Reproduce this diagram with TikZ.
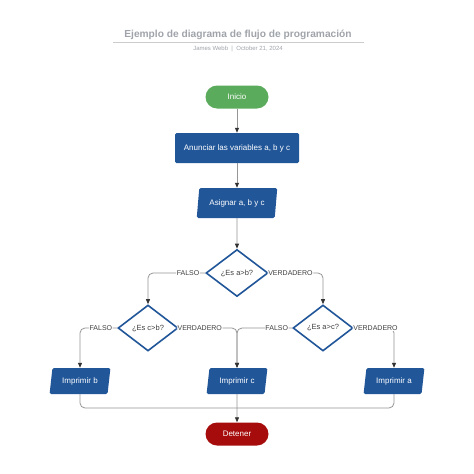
\documentclass[tikz,border=0pt]{standalone}
\usepackage{fontspec}
\setmainfont{Liberation Sans}
\usetikzlibrary{shapes.geometric,arrows.meta}
\definecolor{flowblue}{RGB}{33,86,153}
\definecolor{flowgreen}{RGB}{91,171,92}
\definecolor{flowred}{RGB}{166,12,12}
\definecolor{linegray}{RGB}{150,150,150}
\definecolor{titlegray}{RGB}{160,164,170}
\tikzset{
    base/.style={text=white,font=\fontsize{8}{9}\selectfont,inner sep=0pt},
    terminal/.style={base,rounded corners=11.5pt,minimum width=63pt,minimum height=23pt},
    process/.style={base,fill=flowblue,rounded corners=1.5pt,minimum width=124pt,minimum height=30pt},
    io/.style={base,fill=flowblue,trapezium,trapezium left angle=76,trapezium right angle=104,
        trapezium stretches=true,rounded corners=1.5pt},
    decision/.style={diamond,draw=flowblue,line width=1.6pt,fill=white,text=black!75,
        font=\fontsize{7.5}{9}\selectfont,minimum width=62pt,minimum height=47pt,inner sep=0pt},
    conn/.style={draw=linegray,line width=0.8pt,rounded corners=5pt},
    arr/.style={conn,-{Triangle[length=5pt,width=4pt,color=black!80]}},
    lbl/.style={fill=white,text=black!75,font=\fontsize{7}{8}\selectfont,inner sep=0.6pt}
}
\begin{document}
\begin{tikzpicture}[x=1pt,y=-1pt]
    \useasboundingbox[fill=white] (0,0) rectangle (474,474);
    \node[text=titlegray,font=\fontsize{10.2}{12}\bfseries] (title) at (238,35)
        {Ejemplo de diagrama de flujo de programación};
    \draw[draw=black!20,line width=1.3pt] (113,42.5)--(364,42.5);
    \node[text=titlegray,font=\fontsize{6}{7}\selectfont] (sub) at (238,49)
        {James Webb \ | \ October 21, 2024};

    \node[terminal,fill=flowgreen] (inicio) at (237,97) {Inicio};
    \node[process] (anunciar) at (237,148) {Anunciar las variables a, b y c};
    \node[io,minimum width=81pt,minimum height=30pt] (asignar) at (237,203) {Asignar a, b y c};
    \node[decision] (ab) at (237,273) {¿Es a>b?};
    \node[decision,minimum width=60pt,minimum height=46pt] (cb) at (148,328) {¿Es c>b?};
    \node[decision,minimum width=60pt,minimum height=46pt] (ac) at (323,328) {¿Es a>c?};
    \foreach \n/\x/\t in {imprb/80/b,imprc/237/c,impra/394/a}
    \node[io,minimum width=61pt,minimum height=26pt] (\n) at (\x,381) {Imprimir \t};
    \node[terminal,fill=flowred] (detener) at (237,434) {Detener};
    \coordinate (merge) at (237,408);

    \draw[arr] (inicio) -- (anunciar);
    \draw[arr] (anunciar) -- (asignar);
    \draw[arr] (asignar) -- (ab);
    \draw[arr] (ab.west) -| node[lbl,pos=0.15] {FALSO} (cb.north);
    \draw[arr] (ab.east) -| node[lbl,pos=0.2] {VERDADERO} (ac.north);
    \draw[arr] (cb.west) -| node[lbl,pos=0.22] {FALSO} (imprb.north);
    \draw[arr] (cb.east) -| node[lbl,pos=0.18] {VERDADERO} (imprc.north);
    \draw[arr] (ac.west) -| node[lbl,pos=0.14] {FALSO} (imprc.north);
    \draw[arr] (ac.east) -| node[lbl,pos=0.27] {VERDADERO} (impra.north);
    \draw[conn] (imprb.south) |- (merge);
    \draw[conn] (impra.south) |- (merge);
    \draw[arr] (imprc.south) -- (detener.north);
\end{tikzpicture}
\end{document}
